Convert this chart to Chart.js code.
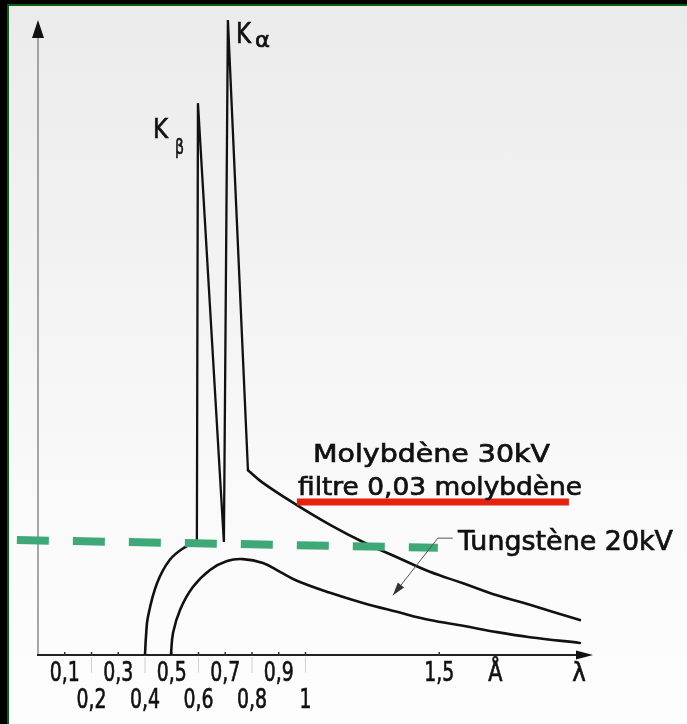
<!DOCTYPE html>
<html>
<head>
<meta charset="utf-8">
<script src="https://cdn.jsdelivr.net/npm/chart.js@4"></script>
<style>
html, body { margin: 0; padding: 0; }
body {
    width: 687px; height: 724px; overflow: hidden; position: relative;
    background: linear-gradient(#ebebeb 0%, #f2f2f2 35%, #fafafa 70%, #fdfdfd 100%);
}
#wrap { position: absolute; left: 0; top: 0; width: 687px; height: 724px; }
.edge { position: absolute; }
</style>
</head>
<body>
<div id="wrap"><canvas id="chart" width="687" height="724"></canvas></div>
<div class="edge" style="left:0;top:0;width:687px;height:4px;background:#000"></div>
<div class="edge" style="left:0;top:0;width:7px;height:724px;background:#000"></div>
<div class="edge" style="left:7px;top:4px;width:680px;height:2px;background:#0b5d12"></div>
<div class="edge" style="left:7px;top:4px;width:2px;height:720px;background:#0b5d12"></div>
<script>
// wavelength axis (Å)
var tickValues = [0.1, 0.2, 0.3, 0.4, 0.5, 0.6, 0.7, 0.8, 0.9, 1, 1.5];
var tickLabels = ['0,1', '0,2', '0,3', '0,4', '0,5', '0,6', '0,7', '0,8', '0,9', '1', '1,5'];
var tickRow    = [0, 1, 0, 1, 0, 1, 0, 1, 0, 1, 0];   // 0 = upper row, 1 = lower row
var unitTick = 1.71;   // position of "Å"
var lambdaMax = 2.075;

// Molybdène 30 kV, filtre 0,03 molybdène (intensity, arbitrary units)
var moLambda    = [0.400, 0.404, 0.411, 0.445, 0.493, 0.550, 0.594, 0.598, 0.695, 0.710, 0.785,
                   0.841, 0.968, 1.092, 1.215, 1.342, 1.465, 1.589, 1.716, 1.839, 2.026];
var moIntensity = [0, 3.1, 6.0, 11.3, 15.0, 17.0, 17.8, 86.9, 17.8, 100, 29.1,
                   27.1, 23.6, 20.5, 17.8, 15.4, 13.1, 11.3, 9.4, 7.9, 5.5];

// Tungstène 20 kV
var wLambda    = [0.497, 0.505, 0.531, 0.579, 0.643, 0.707, 0.766, 0.841, 0.905, 0.968,
                  1.092, 1.215, 1.342, 1.465, 1.589, 1.716, 1.839, 2.026];
var wIntensity = [0, 3.5, 7.1, 10.7, 13.4, 14.8, 15.1, 14.5, 13.1, 11.7,
                  9.8, 8.2, 6.8, 5.5, 4.6, 3.6, 2.8, 1.9];

// overlay marks
var guideLambda = [-0.079, 1.495];
var guideLevel  = [18.1, 16.9];
var underLambda = [0.968, 1.985];
var underLevel  = [24.1, 24.1];

// leader from "Tungstène 20kV" to its curve
var leaderLambda = [1.551, 1.495, 1.327];
var leaderLevel  = [18.4, 18.4, 9.4];

function pts(xs, ys, from, to) {
    var out = [];
    for (var i = from; i <= to; i++) out.push({x: xs[i], y: ys[i]});
    return out;
}

var ink = '#111';

function label(ctx, s, x, y, size, sx, align) {
    ctx.save();
    ctx.font = size + 'px "DejaVu Sans"';
    ctx.textBaseline = 'alphabetic';
    ctx.textAlign = 'left';
    var w = ctx.measureText(s).width * sx;
    var x0 = align === 'center' ? x - w / 2 : x;
    ctx.translate(x0, y);
    ctx.scale(sx, 1);
    ctx.fillStyle = ink;
    ctx.strokeStyle = ink;
    ctx.lineWidth = 0.7;
    ctx.fillText(s, 0, 0);
    ctx.strokeText(s, 0, 0);
    ctx.restore();
}

function fitLabel(ctx, s, x, y, size, width) {
    ctx.save();
    ctx.font = size + 'px "DejaVu Sans"';
    var sx = width / ctx.measureText(s).width;
    ctx.restore();
    label(ctx, s, x, y, size, sx, 'left');
}

var sketch = {
    id: 'sketch',
    beforeDatasetsDraw: function(chart) {
        var ctx = chart.ctx, a = chart.chartArea;
        var xs = chart.scales.x;
        ctx.save();
        // y axis
        ctx.strokeStyle = '#8a8a8a';
        ctx.lineWidth = 1.5;
        ctx.beginPath(); ctx.moveTo(a.left, a.bottom); ctx.lineTo(a.left, a.top + 10); ctx.stroke();
        ctx.fillStyle = ink;
        ctx.beginPath(); ctx.moveTo(a.left, a.top); ctx.lineTo(a.left - 6, a.top + 18); ctx.lineTo(a.left + 6, a.top + 18); ctx.closePath(); ctx.fill();
        // x axis
        ctx.strokeStyle = '#222';
        ctx.lineWidth = 2;
        ctx.beginPath(); ctx.moveTo(a.left - 1, a.bottom); ctx.lineTo(a.right - 8, a.bottom); ctx.stroke();
        ctx.beginPath(); ctx.moveTo(a.right, a.bottom); ctx.lineTo(a.right - 17, a.bottom - 4.5); ctx.lineTo(a.right - 17, a.bottom + 4.5); ctx.closePath(); ctx.fill();
        // ticks
        for (var i = 0; i < tickValues.length; i++) {
            var px = xs.getPixelForValue(tickValues[i]);
            ctx.strokeStyle = '#333';
            ctx.lineWidth = 1.5;
            ctx.beginPath(); ctx.moveTo(px, a.bottom - 3); ctx.lineTo(px, a.bottom + 1); ctx.stroke();
            if (tickRow[i] === 1) {
                ctx.strokeStyle = '#cfcfcf';
                ctx.lineWidth = 1;
                ctx.beginPath(); ctx.moveTo(px, a.bottom + 2); ctx.lineTo(px, a.bottom + 18); ctx.stroke();
            }
        }
        ctx.restore();
    },
    afterDatasetsDraw: function(chart) {
        var ctx = chart.ctx, a = chart.chartArea;
        var xs = chart.scales.x, ys = chart.scales.y;
        // tick labels
        for (var i = 0; i < tickValues.length; i++) {
            var px = xs.getPixelForValue(tickValues[i]);
            label(ctx, tickLabels[i], px, tickRow[i] ? a.bottom + 53 : a.bottom + 26, 27, 0.7, 'center');
        }
        label(ctx, 'Å', xs.getPixelForValue(unitTick), a.bottom + 26, 26, 0.8, 'center');
        label(ctx, 'λ', a.right - 14, a.bottom + 26, 27, 0.85, 'center');

        // peak names
        fitLabel(ctx, 'K', 236, 43, 28, 15);
        fitLabel(ctx, 'α', 255, 47, 22, 15);
        fitLabel(ctx, 'K', 153, 138, 27, 15);
        fitLabel(ctx, 'β', 175, 154, 22, 9);

        // curve names
        fitLabel(ctx, 'Molybdène 30kV', 313, 462, 25, 237);
        fitLabel(ctx, 'filtre 0,03 molybdène', 298, 495, 25, 284);
        fitLabel(ctx, 'Tungstène 20kV', 458, 550, 27, 215);

        // leader arrow
        ctx.save();
        ctx.strokeStyle = '#555';
        ctx.fillStyle = '#333';
        ctx.lineWidth = 1;
        ctx.beginPath();
        for (var j = 0; j < leaderLambda.length; j++) {
            var lx = xs.getPixelForValue(leaderLambda[j]), ly = ys.getPixelForValue(leaderLevel[j]);
            if (j === 0) ctx.moveTo(lx, ly); else ctx.lineTo(lx, ly);
        }
        ctx.stroke();
        var n = leaderLambda.length;
        var tx = xs.getPixelForValue(leaderLambda[n - 1]), ty = ys.getPixelForValue(leaderLevel[n - 1]);
        var bx = xs.getPixelForValue(leaderLambda[n - 2]), by = ys.getPixelForValue(leaderLevel[n - 2]);
        var ang = Math.atan2(ty - by, tx - bx);
        ctx.translate(tx, ty);
        ctx.rotate(ang);
        ctx.beginPath(); ctx.moveTo(0, 0); ctx.lineTo(-13, -4); ctx.lineTo(-13, 4); ctx.closePath(); ctx.fill();
        ctx.restore();
    }
};

var curve = {borderColor: ink, borderWidth: 2.6, pointRadius: 0, fill: false, borderCapStyle: 'round', borderJoinStyle: 'round'};

var ctx = document.getElementById('chart').getContext('2d');
var chart = new Chart(ctx, {
    type: 'line',
    data: {
        datasets: [
            Object.assign({label: 'filtre', data: pts(underLambda, underLevel, 0, 1), order: 0},
                {borderColor: '#e5220f', borderWidth: 7, pointRadius: 0, borderCapStyle: 'butt', clip: false}),
            Object.assign({label: 'guide', data: pts(guideLambda, guideLevel, 0, 1), order: 0},
                {borderColor: '#3fa878', borderWidth: 8, pointRadius: 0, borderDash: [32, 24], borderCapStyle: 'butt', clip: false}),
            Object.assign({label: 'Mo rise', data: pts(moLambda, moIntensity, 0, 6), tension: 0.4, order: 1}, curve),
            Object.assign({label: 'Mo K', data: pts(moLambda, moIntensity, 6, 10), tension: 0, order: 1}, curve, {borderWidth: 2.3, borderJoinStyle: 'miter'}),
            Object.assign({label: 'Mo tail', data: pts(moLambda, moIntensity, 10, moLambda.length - 1), tension: 0.4, order: 1}, curve),
            Object.assign({label: 'W', data: pts(wLambda, wIntensity, 0, wLambda.length - 1), tension: 0.4, order: 1}, curve)
        ]
    },
    options: {
        responsive: false,
        animation: false,
        devicePixelRatio: 1,
        layout: {autoPadding: false, padding: {left: 38, right: 94, top: 20, bottom: 69}},
        plugins: {legend: {display: false}, tooltip: {enabled: false}},
        scales: {
            x: {type: 'linear', min: 0, max: lambdaMax, display: false},
            y: {type: 'linear', min: 0, max: 100, display: false}
        }
    },
    plugins: [sketch]
});
</script>
</body>
</html>
